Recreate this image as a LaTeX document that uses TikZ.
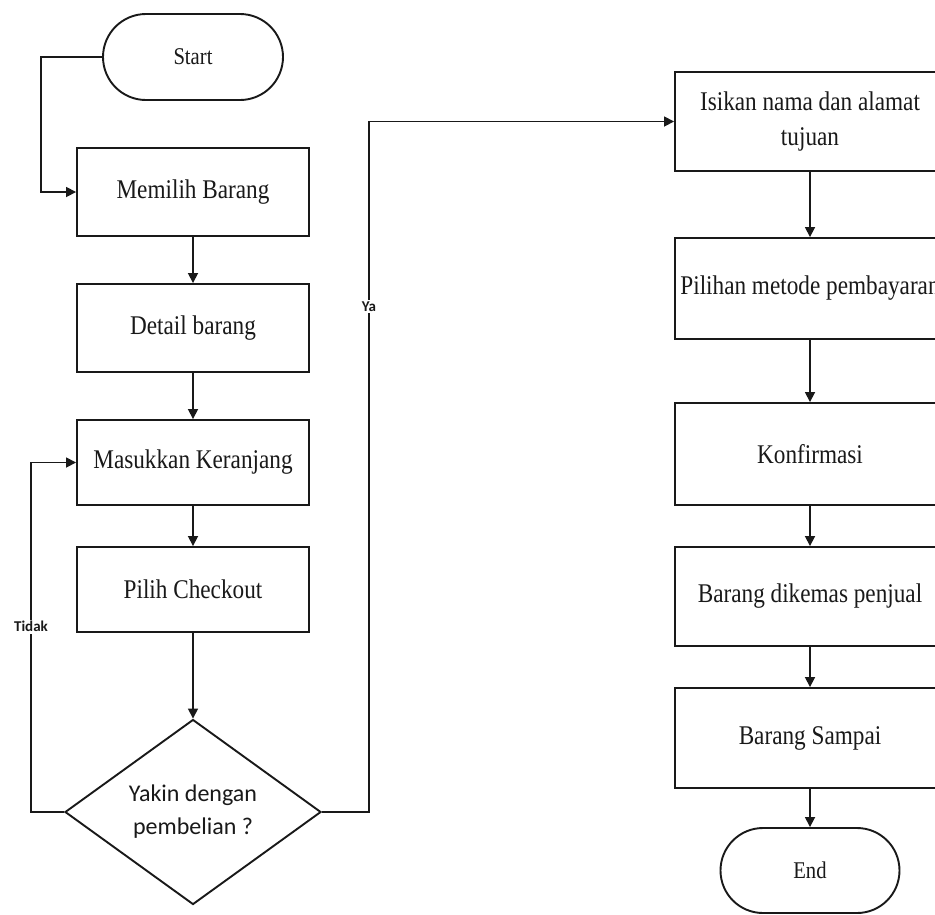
\documentclass[tikz,border=0pt]{standalone}
\usepackage{fontspec}
\setmainfont{Liberation Serif}[FakeStretch=0.86]
\newfontfamily\lblfont{Carlito}
\usetikzlibrary{shapes.misc,shapes.geometric,arrows.meta}
\begin{document}
\begin{tikzpicture}[x=1pt,y=-1pt,
  every node/.style={text=black!90},
  boxl/.style={draw=black!90,line width=1.9pt,rectangle,minimum width=232pt,inner sep=0pt,font=\fontsize{27}{35}\selectfont,align=center},
  boxr/.style={draw=black!90,line width=1.9pt,rectangle,minimum width=270pt,inner sep=0pt,font=\fontsize{27}{35}\selectfont,align=center},
  term/.style={draw=black!90,line width=1.9pt,rounded rectangle,minimum width=180pt,minimum height=86pt,inner sep=0pt,font=\fontsize{24}{28}\selectfont},
  decide/.style={draw=black!90,line width=1.9pt,diamond,aspect=1.4,minimum width=256pt,minimum height=185pt,inner sep=0pt,align=center,font=\lblfont\fontsize{24}{33}\selectfont},
  conn/.style={draw=black!90,line width=1.7pt},
  arr/.style={conn,-{Triangle[length=10pt,width=10pt]}},
  lbl/.style={fill=white,inner sep=1.5pt,font=\lblfont\bfseries\fontsize{15}{17}\selectfont}]
\useasboundingbox (0,0) rectangle (935,914);
\clip (0,0) rectangle (935,914);
\fill[white] (0,0) rectangle (935,914);
% left column
\node[term] (start) at (193,57) {Start};
\node[boxl,minimum height=88pt] (memilih) at (193,192) {Memilih Barang};
\node[boxl,minimum height=88pt] (detail) at (193,328) {Detail barang};
\node[boxl,minimum height=85pt] (masuk) at (193,462.5) {Masukkan Keranjang};
\node[boxl,minimum height=85pt] (pilih) at (193,589.5) {Pilih Checkout};
\node[decide] (yakin) at (193,812) {Yakin dengan\\pembelian ?};
% right column
\node[boxr,minimum height=99pt] (isikan) at (810,121.5) {Isikan nama dan alamat\\tujuan};
\node[boxr,minimum height=101pt] (pilihan) at (810,288.5) {Pilihan metode pembayaran};
\node[boxr,minimum height=102pt] (konf) at (810,454) {Konfirmasi};
\node[boxr,minimum height=99pt] (kemas) at (810,596.5) {Barang dikemas penjual};
\node[boxr,minimum height=100pt] (sampai) at (810,738) {Barang Sampai};
\node[term,minimum width=179pt,minimum height=85pt] (end) at (810,870.5) {End};
% corner points
\coordinate (c1) at (41,57);
\coordinate (c2) at (31,812);
\coordinate (c3) at (369,812);
% connectors
\draw[arr] (start.west) -- (c1) |- (memilih.west);
\draw[arr] (memilih) -- (detail);
\draw[arr] (detail) -- (masuk);
\draw[arr] (masuk) -- (pilih);
\draw[arr] (pilih) -- (yakin);
\draw[arr] (yakin.west) -- (c2) |- node[lbl,pos=0.265] {Tidak} (masuk.west);
\draw[arr] (yakin.east) -- (c3) |- node[lbl,pos=0.366] {Ya} (isikan.west);
\draw[arr] (isikan) -- (pilihan);
\draw[arr] (pilihan) -- (konf);
\draw[arr] (konf) -- (kemas);
\draw[arr] (kemas) -- (sampai);
\draw[arr] (sampai) -- (end);
\end{tikzpicture}
\end{document}
